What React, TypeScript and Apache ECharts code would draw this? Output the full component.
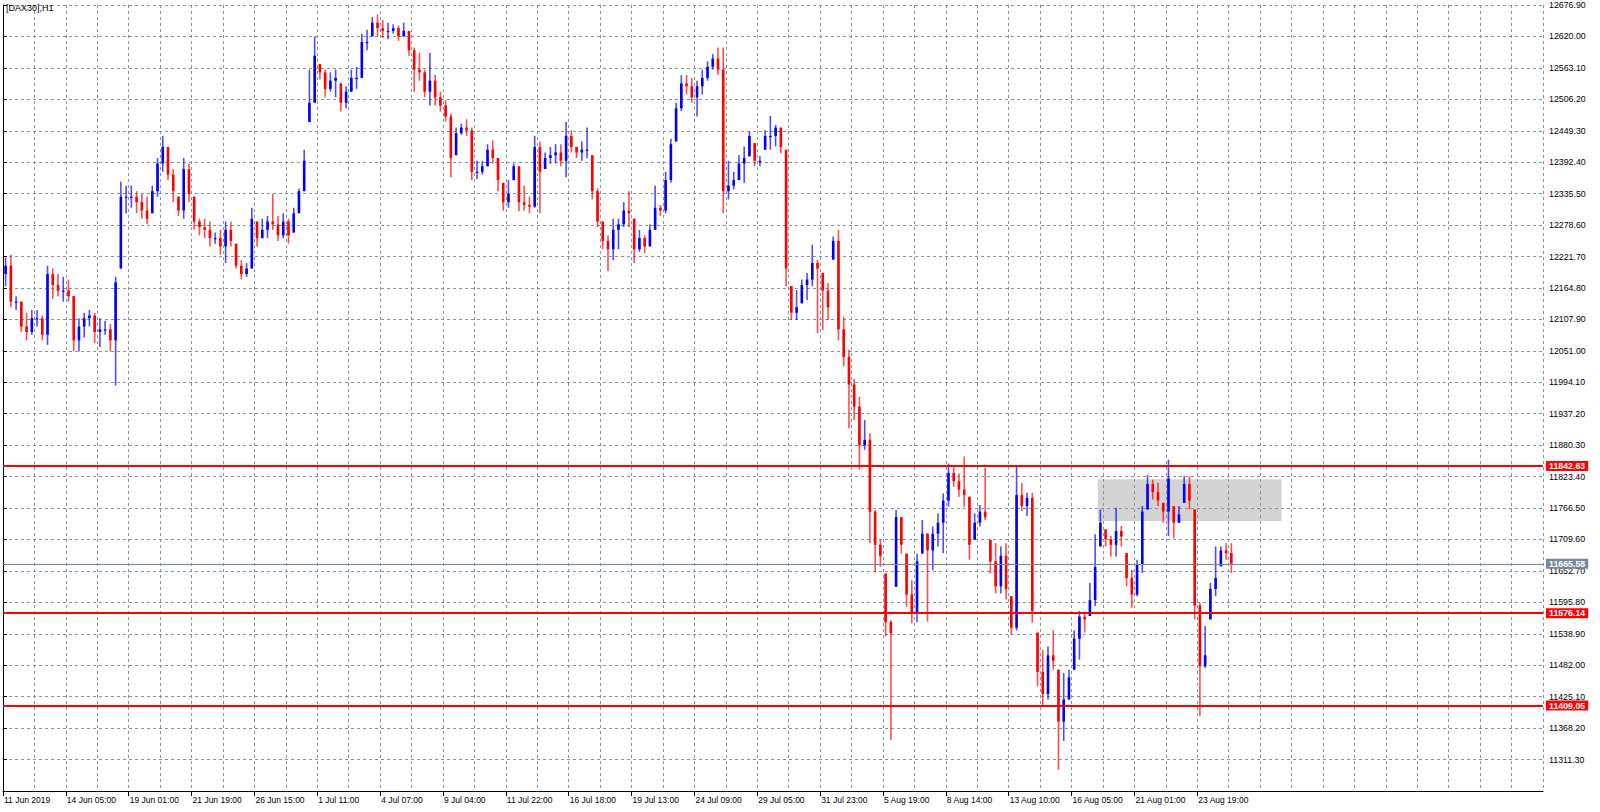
import React, { useEffect, useRef } from 'react';
import * as echarts from 'echarts';

// ---- tick labels (bottom axis, one every 12 slots) ----
const tickLabels = [
  '11 Jun 2019', '14 Jun 05:00', '19 Jun 01:00', '21 Jun 19:00', '26 Jun 15:00',
  '1 Jul 11:00', '4 Jul 07:00', '9 Jul 04:00', '11 Jul 22:00', '16 Jul 18:00',
  '19 Jul 13:00', '24 Jul 09:00', '29 Jul 05:00', '31 Jul 23:00', '5 Aug 19:00',
  '8 Aug 14:00', '13 Aug 10:00', '16 Aug 05:00', '21 Aug 01:00', '23 Aug 19:00',
];

// ---- price bars (each slot ~ 5 hourly bars) ----
const lows = [
  12168, 12130, 12125, 12085, 12070, 12080, 12095, 12070, 12062, 12145,
  12150, 12140, 12140, 12050, 12050, 12075, 12095, 12065, 12058, 12080,
  12050, 11988, 12200, 12300, 12310, 12300, 12290, 12280, 12300, 12330,
  12375, 12360, 12320, 12295, 12290, 12320, 12270, 12260, 12255, 12240,
  12245, 12225, 12210, 12240, 12200, 12180, 12185, 12200, 12240, 12255,
  12255, 12270, 12250, 12255, 12245, 12265, 12300, 12340, 12465, 12500,
  12542, 12510, 12520, 12510, 12484, 12490, 12520, 12525, 12545, 12595,
  12620, 12620, 12617, 12615, 12625, 12612, 12620, 12585, 12520, 12540,
  12510, 12495, 12495, 12484, 12466, 12365, 12405, 12442, 12440, 12360,
  12362, 12370, 12385, 12390, 12340, 12305, 12310, 12360, 12304, 12305,
  12300, 12310, 12300, 12380, 12390, 12390, 12385, 12365, 12410, 12400,
  12395, 12400, 12325, 12275, 12235, 12195, 12215, 12235, 12275, 12275,
  12210, 12230, 12228, 12240, 12270, 12295, 12300, 12355, 12430, 12485,
  12515, 12500, 12475, 12515, 12540, 12560, 12550, 12300, 12325, 12343,
  12360, 12355, 12403, 12385, 12385, 12415, 12415, 12421, 12409, 12168,
  12107, 12107, 12137, 12143, 12168, 12083, 12089, 12107, 12216, 12070,
  12023, 11911, 11926, 11836, 11872, 11703, 11650, 11660, 11534, 11347,
  11624, 11684, 11588, 11558, 11560, 11684, 11561, 11654, 11697, 11685,
  11769, 11805, 11787, 11769, 11673, 11709, 11733, 11745, 11648, 11612,
  11612, 11601, 11538, 11545, 11761, 11752, 11559, 11444, 11408, 11420,
  11474, 11293, 11345, 11420, 11474, 11492, 11541, 11571, 11589, 11697,
  11697, 11679, 11679, 11697, 11625, 11586, 11607, 11649, 11764, 11782,
  11770, 11740, 11716, 11712, 11740, 11776, 11764, 11565, 11390, 11477,
  11565, 11607, 11661, 11673, 11649,
];

const highs = [
  12220, 12225, 12150, 12140, 12120, 12125, 12125, 12115, 12205, 12200,
  12190, 12185, 12180, 12150, 12110, 12120, 12125, 12120, 12110, 12105,
  12100, 12185, 12357, 12350, 12350, 12340, 12335, 12330, 12350, 12400,
  12440, 12420, 12380, 12330, 12400, 12390, 12330, 12290, 12290, 12285,
  12265, 12270, 12285, 12285, 12245, 12215, 12210, 12310, 12285, 12290,
  12295, 12335, 12295, 12300, 12290, 12310, 12345, 12415, 12560, 12620,
  12570, 12560, 12555, 12560, 12535, 12530, 12560, 12565, 12625, 12632,
  12655, 12660, 12650, 12645, 12642, 12640, 12645, 12630, 12600, 12590,
  12560, 12590, 12550, 12520, 12505, 12480, 12455, 12462, 12470, 12455,
  12395, 12395, 12425, 12432, 12400, 12355, 12360, 12390, 12385, 12350,
  12330, 12440, 12430, 12410, 12420, 12425, 12425, 12465, 12450, 12420,
  12430, 12455, 12405, 12345, 12285, 12260, 12290, 12290, 12320, 12340,
  12290, 12270, 12260, 12280, 12350, 12315, 12375, 12435, 12500, 12550,
  12550, 12545, 12540, 12560, 12575, 12588, 12600, 12600, 12395, 12375,
  12405, 12421, 12448, 12427, 12403, 12450, 12476, 12460, 12455, 12415,
  12168, 12161, 12180, 12192, 12243, 12216, 12192, 12174, 12258, 12270,
  12113, 12053, 12000, 11968, 11926, 11902, 11763, 11709, 11648, 11564,
  11763, 11750, 11684, 11636, 11684, 11745, 11721, 11733, 11757, 11793,
  11847, 11841, 11829, 11860, 11787, 11757, 11772, 11839, 11709, 11703,
  11697, 11703, 11607, 11842, 11812, 11794, 11794, 11541, 11510, 11516,
  11545, 11474, 11468, 11474, 11545, 11580, 11577, 11631, 11719, 11764,
  11728, 11716, 11767, 11734, 11685, 11655, 11673, 11770, 11827, 11818,
  11812, 11776, 11854, 11770, 11770, 11824, 11824, 11764, 11595, 11553,
  11631, 11697, 11697, 11703, 11703,
];

const closes = [
  12205, 12140, 12140, 12095, 12085, 12110, 12110, 12080, 12190, 12170,
  12160, 12160, 12150, 12070, 12095, 12110, 12115, 12085, 12090, 12090,
  12070, 12175, 12330, 12330, 12330, 12320, 12305, 12290, 12340, 12390,
  12420, 12370, 12340, 12305, 12380, 12335, 12285, 12275, 12270, 12255,
  12255, 12240, 12270, 12250, 12205, 12190, 12200, 12290, 12255, 12270,
  12285, 12280, 12260, 12285, 12260, 12300, 12340, 12395, 12500, 12585,
  12555, 12525, 12540, 12545, 12500, 12520, 12545, 12545, 12610, 12610,
  12645, 12635, 12630, 12630, 12635, 12620, 12630, 12595, 12560, 12555,
  12520, 12540, 12510, 12495, 12475, 12400, 12445, 12455, 12450, 12375,
  12375, 12385, 12415, 12400, 12360, 12320, 12335, 12385, 12320, 12315,
  12312, 12420, 12375, 12400, 12405, 12410, 12395, 12440, 12420, 12410,
  12415, 12415, 12340, 12285, 12250, 12235, 12270, 12280, 12305, 12300,
  12235, 12255, 12240, 12270, 12310, 12305, 12360, 12425, 12490, 12535,
  12530, 12510, 12530, 12545, 12565, 12580, 12560, 12340, 12350, 12360,
  12390, 12400, 12440, 12395, 12395, 12440, 12440, 12455, 12420, 12200,
  12120, 12130, 12170, 12180, 12210, 12200, 12160, 12130, 12250, 12090,
  12040, 11990, 11950, 11880, 11890, 11760, 11700, 11680, 11560, 11540,
  11750, 11700, 11610, 11575, 11670, 11720, 11690, 11720, 11740, 11780,
  11830, 11815, 11800, 11790, 11700, 11740, 11760, 11750, 11670, 11625,
  11680, 11620, 11550, 11790, 11770, 11785, 11580, 11470, 11430, 11500,
  11490, 11380, 11420, 11460, 11530, 11570, 11565, 11600, 11660, 11740,
  11710, 11700, 11725, 11715, 11640, 11610, 11665, 11760, 11810, 11795,
  11780, 11760, 11820, 11740, 11755, 11810, 11780, 11590, 11480, 11500,
  11620, 11640, 11690, 11685, 11665.58,
];

const FIRST_OPEN = 12190;

// ---- horizontal levels and zone ----
const levelLines = [11842.63, 11576.14, 11409.05];
const currentPrice = 11665.58;
const zoneX = [209.0, 244.1];
const zoneY = [11743.0, 11818.5];

// ---- axis scaffolding ----
const Y_MIN = 11254.4;
const Y_MAX = 12676.9;
const Y_STEP = 56.9;
const SLOTS = 294;
const SLOTS_PER_GRID = 6;
const SLOTS_PER_LABEL = 12;

const GRID_COLOR = '#8593a3';
const FONT = 'Liberation Sans';

export default function App() {
  const ref = useRef<HTMLDivElement>(null);

  useEffect(() => {
    const chart = echarts.init(ref.current as HTMLDivElement, null, { renderer: 'svg' });

    const bars = closes.map((c, i) => {
      const prev = i === 0 ? FIRST_OPEN : closes[i - 1];
      const o = Math.min(Math.max(prev, lows[i]), highs[i]);
      return [i + 0.5, o, c, lows[i], highs[i]];
    });

    const cats = Array.from({ length: SLOTS + 1 }, (_, i) => String(i));
    const isLabel = (i: number) =>
      i % SLOTS_PER_LABEL === 0 && i / SLOTS_PER_LABEL < tickLabels.length;

    const option: any = {
      animation: false,
      backgroundColor: '#ffffff',
      textStyle: { fontFamily: FONT },
      title: {
        text: '[DAX30],H1',
        left: 6,
        top: 3,
        padding: 0,
        textStyle: { fontSize: 9, fontWeight: 'normal', color: '#000', fontFamily: FONT },
      },
      grid: { left: 3, right: 57, top: 5, bottom: 21, containLabel: false },
      xAxis: [
        {
          type: 'value',
          min: 0,
          max: SLOTS,
          interval: SLOTS_PER_GRID,
          z: 3,
          axisLine: { show: true, lineStyle: { color: '#000', width: 1 } },
          axisTick: { show: false },
          axisLabel: { show: false },
          splitLine: { show: true, lineStyle: { color: GRID_COLOR, type: [3, 3], width: 1 } },
        },
        {
          type: 'category',
          data: cats,
          boundaryGap: false,
          position: 'bottom',
          z: 3,
          axisLine: { show: false },
          axisTick: {
            show: true,
            interval: (i: number) => isLabel(i),
            length: 5,
            lineStyle: { color: '#000', width: 1 },
          },
          axisLabel: {
            show: true,
            interval: (i: number) => isLabel(i),
            formatter: (_v: string, i: number) => tickLabels[i / SLOTS_PER_LABEL] ?? '',
            align: 'left',
            margin: 4,
            padding: [0, 0, 0, 1],
            fontSize: 8.5,
            color: '#000',
            fontFamily: FONT,
          },
          splitLine: { show: false },
        },
      ],
      yAxis: [
        {
          type: 'value',
          position: 'right',
          min: Y_MIN,
          max: Y_MAX,
          interval: Y_STEP,
          z: 3,
          axisLine: { show: true, lineStyle: { color: '#000', width: 1 } },
          axisTick: { show: true, length: 4, lineStyle: { color: '#000' } },
          axisLabel: {
            formatter: (v: number) => v.toFixed(2),
            fontSize: 8.8,
            color: '#000',
            margin: 6,
            showMinLabel: false,
            fontFamily: FONT,
          },
          splitLine: { show: true, lineStyle: { color: GRID_COLOR, type: [3, 3], width: 1 } },
        },
        {
          type: 'value',
          position: 'left',
          min: Y_MIN,
          max: Y_MAX,
          interval: Y_STEP,
          z: 3,
          axisLine: { show: true, lineStyle: { color: '#000', width: 1 } },
          axisTick: { show: false },
          axisLabel: { show: false },
          splitLine: { show: false },
        },
      ],
      series: [
        {
          type: 'line',
          data: [],
          xAxisIndex: 0,
          yAxisIndex: 0,
          silent: true,
          markArea: {
            silent: true,
            z: 1,
            itemStyle: { color: '#d3d3d3', opacity: 1 },
            data: [[{ xAxis: zoneX[0], yAxis: zoneY[1] }, { xAxis: zoneX[1], yAxis: zoneY[0] }]],
          },
        },
        {
          type: 'custom',
          xAxisIndex: 0,
          yAxisIndex: 0,
          z: 4,
          silent: true,
          data: bars,
          encode: { x: 0, y: [1, 2, 3, 4] },
          renderItem: (_params: any, api: any) => {
            const x = api.value(0);
            const o = api.value(1);
            const c = api.value(2);
            const l = api.value(3);
            const h = api.value(4);
            const pL = api.coord([x, l]);
            const pH = api.coord([x, h]);
            const pO = api.coord([x, o]);
            const pC = api.coord([x, c]);
            const w = api.size([1, 0])[0];
            const color = c >= o ? '#0000ff' : '#ff0000';
            const top = Math.min(pO[1], pC[1]);
            const hgt = Math.max(1.2, Math.abs(pO[1] - pC[1]));
            return {
              type: 'group',
              children: [
                {
                  type: 'line',
                  shape: { x1: pL[0], y1: pL[1], x2: pH[0], y2: pH[1] },
                  style: { stroke: color, lineWidth: 1.6, opacity: 0.7 },
                },
                {
                  type: 'rect',
                  shape: { x: pO[0] - w * 0.25, y: top, width: w * 0.5, height: hgt },
                  style: { fill: color },
                },
              ],
            };
          },
          markLine: {
            silent: true,
            symbol: ['none', 'none'],
            z: 5,
            label: {
              show: true,
              position: 'end',
              distance: 3,
              formatter: (p: any) => Number(p.value).toFixed(2),
              color: '#ffffff',
              fontWeight: 'bold',
              fontSize: 8.8,
              fontFamily: FONT,
              padding: [1, 3, 0, 3],
              lineHeight: 9,
            },
            data: [
              ...levelLines.map((v) => ({
                yAxis: v,
                lineStyle: { color: '#ff0000', width: 2, type: 'solid' },
                label: { backgroundColor: '#ff0000' },
              })),
              {
                yAxis: currentPrice,
                lineStyle: { color: '#778899', width: 1, type: 'solid' },
                label: { backgroundColor: '#778899' },
              },
            ],
          },
        },
      ],
    };

    chart.setOption(option);
    return () => chart.dispose();
  }, []);

  return (
    <div
      ref={ref}
      style={{ position: 'fixed', left: 0, top: 0, width: 1600, height: 812, background: '#fff' }}
    />
  );
}
